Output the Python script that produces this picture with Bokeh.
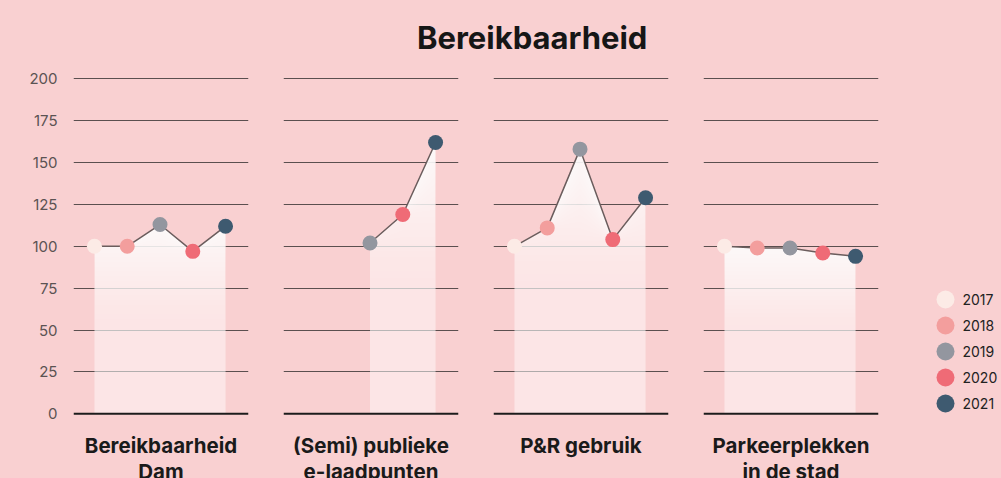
import numpy as np
from bokeh.plotting import figure
from bokeh.layouts import row, column
from bokeh.models import FixedTicker, Range1d, Grid, Span
from bokeh.embed import file_html
from bokeh.resources import INLINE
from bokeh.core.properties import value

# ---------------- data ----------------
title = "Bereikbaarheid"
years = [2017, 2018, 2019, 2020, 2021]
year_labels = ["2017", "2018", "2019", "2020", "2021"]
categories = [("Bereikbaarheid", "Dam"),
              ("(Semi) publieke", "e-laadpunten"),
              ("P&R gebruik", ""),
              ("Parkeerplekken", "in de stad")]
dam = [100, 100, 113, 97, 112]
laadpunten = [np.nan, np.nan, 102, 119, 162]
pr_gebruik = [100, 111, 158, 104, 129]
parkeerplekken = [100, 99, 99, 96, 94]
series = [dam, laadpunten, pr_gebruik, parkeerplekken]
y_ticks = [0, 25, 50, 75, 100, 125, 150, 175, 200]
year_colors = ["#fcebe6", "#f39e9d", "#93969f", "#ef6b76", "#3e5a70"]

# ---------------- style ----------------
BG = "#f9d0d1"
FONT = "Inter"
GRID = "#5b4f4f"
LINE = "#6b5d5d"
A0, A1 = 0.45, 0.93
XR = (2016.36, 2021.70)
YR = (-38.63, 200.78)   # frame runs from just above 200 to the bottom edge


def base_fig(**kw):
    p = figure(output_backend="svg", toolbar_location=None,
               background_fill_color=None, border_fill_color=BG,
               outline_line_color=None, **kw)
    for g in p.grid:
        g.visible = False
    return p


def panel(vals, labels, first):
    v = np.array(vals, dtype=float)
    x = np.array(years, dtype=float)
    ok = ~np.isnan(v)
    xs, vs = x[ok], v[ok]
    cols = [c for c, k in zip(year_colors, ok) if k]

    p = base_fig(width=265 if first else 210, height=420,
                 x_range=Range1d(*XR), y_range=Range1d(*YR),
                 x_axis_location=None,
                 y_axis_location="left" if first else None,
                 min_border_left=73 if first else 18, min_border_right=17,
                 min_border_top=19, min_border_bottom=0)
    p.add_layout(Grid(dimension=1, ticker=FixedTicker(ticks=y_ticks[1:]),
                      grid_line_color=GRID, grid_line_width=1))

    if first:
        ya = p.yaxis[0]
        ya.ticker = FixedTicker(ticks=y_ticks)
        ya.axis_line_color = None
        ya.major_tick_line_color = None
        ya.minor_tick_line_color = None
        ya.major_tick_out = 0
        ya.minor_tick_out = 0
        ya.major_label_standoff = 16
        ya.major_label_text_font = FONT
        ya.major_label_text_font_size = "15px"
        ya.major_label_text_color = "#5b5353"

    # gradient area (white, more opaque towards the top)
    M = vs.max()

    def T(h):
        return 1 - (A0 + (A1 - A0) * h / M)

    p.varea(x=xs, y1=np.zeros_like(vs), y2=vs, fill_color="white", fill_alpha=A0)
    N = 40
    prevT = T(0)
    for k in range(1, N):
        lo = M * k / N
        t = T(lo)
        a = 1 - t / prevT
        prevT = t
        p.varea(x=xs, y1=np.minimum(vs, lo), y2=vs, fill_color="white", fill_alpha=a)

    # baseline at 0
    p.add_layout(Span(location=0, dimension="width", line_color="#1c1c1c", line_width=2))

    p.line(xs, vs, line_color=LINE, line_width=1.5)
    p.scatter(xs, vs, size=15, fill_color=cols, line_color=None)

    cx = (XR[0] + XR[1]) / 2
    for off, txt in zip([32.0, 57.5], labels):
        if txt:
            p.text(x=[cx], y=[0], text=[txt], y_offset=off,
                   text_align="center", text_baseline="alphabetic",
                   text_font=value(FONT), text_font_style="bold",
                   text_font_size="20.5px", text_color="#1a1a1a")
    return p


panels = [panel(s, c, i == 0) for i, (s, c) in enumerate(zip(series, categories))]

# legend figure (frame aligned with the panels: 401 px tall, top at 77)
lg = base_fig(width=106, height=420, x_range=Range1d(0, 106),
              y_range=Range1d((401 - 222) / 26, -222 / 26),
              x_axis_location=None, y_axis_location=None,
              min_border_left=0, min_border_right=0, min_border_top=19, min_border_bottom=0)
idx = list(range(len(years)))
lg.scatter(x=[50] * len(idx), y=idx, size=18, fill_color=year_colors, line_color=None)
lg.text(x=[67] * len(idx), y=idx, text=year_labels, text_baseline="middle",
        text_font=value(FONT), text_font_size="14px", text_color="#222222")

# title figure
tf = base_fig(width=1001, height=58, x_range=Range1d(0, 1001), y_range=Range1d(58, 0),
              x_axis_location=None, y_axis_location=None,
              min_border_left=0, min_border_right=0, min_border_top=0, min_border_bottom=0)
tf.text(x=[531.7], y=[37.3], text=[title], text_align="center", text_baseline="alphabetic",
        text_font=value(FONT), text_font_style="bold", text_font_size="31px",
        text_color="#161616")

layout = column(tf, row(*panels, lg, styles={"background-color": BG}),
                styles={"background-color": BG})
open("out.html", "w").write(file_html(layout, INLINE))
